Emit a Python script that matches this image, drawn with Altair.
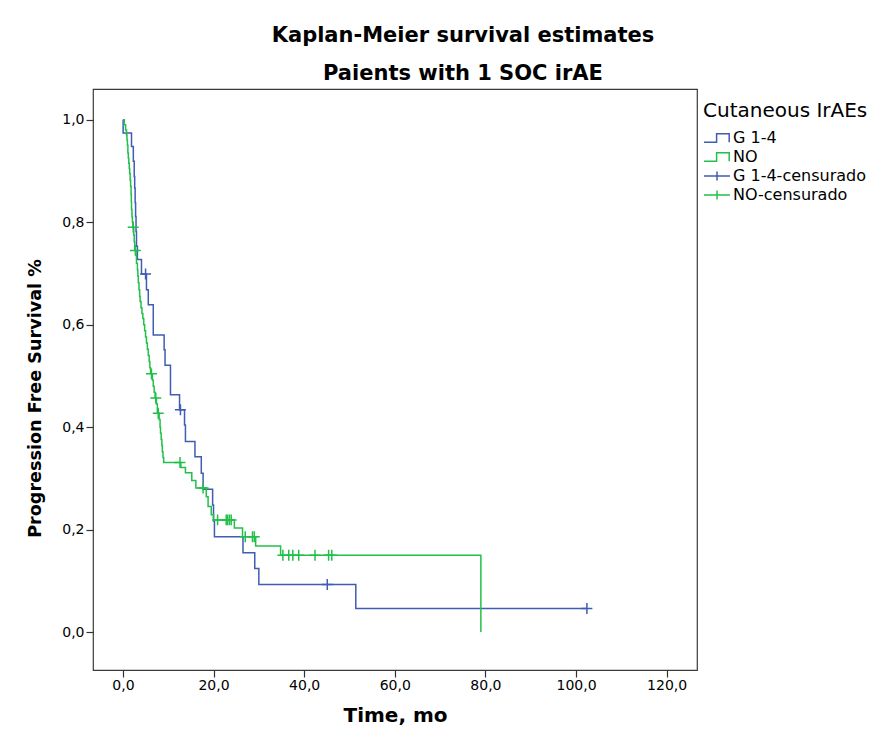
import altair as alt
import pandas as pd

# Kaplan-Meier step curves: time (months) of each drop and survival after it
g14_time = [0, 0.05, 1.9, 2.3, 2.5, 2.6, 2.7, 2.8, 2.9, 3.0, 3.2, 4.1, 5.2, 5.6, 6.7, 9.1,
            9.3, 10.5, 12.5, 13.6, 13.8, 15.9, 17.3, 17.7, 19.8, 20.0, 20.2, 26.5, 29.1,
            30.0, 51.4, 102.4]
g14_surv = [1.0, 0.974, 0.948, 0.919, 0.889, 0.867, 0.838, 0.811, 0.782, 0.753, 0.727,
            0.699, 0.668, 0.639, 0.580, 0.551, 0.521, 0.463, 0.434, 0.404, 0.372, 0.342,
            0.310, 0.279, 0.248, 0.217, 0.186, 0.155, 0.124, 0.093, 0.046, 0.046]

no_time = [0, 0.3, 0.6, 0.8, 0.9, 1.0, 1.1, 1.2, 1.3, 1.4, 1.5, 1.6, 1.7, 1.8, 1.85, 1.9,
           2.0, 2.1, 2.2, 2.4, 2.5, 2.6, 2.9, 3.0, 3.2, 3.3, 3.4, 3.55, 3.7, 3.8, 4.0, 4.2,
           4.4, 4.6, 4.8, 5.0, 5.2, 5.4, 5.6, 5.8, 5.95, 6.1, 6.5, 6.7, 6.9, 7.1, 7.4, 7.6,
           8.0, 8.2, 8.3, 8.45, 8.6, 8.7, 8.85, 9.0, 12.8, 13.8, 15.2, 16.1, 18.4, 18.8,
           19.5, 20.0, 24.6, 26.4, 29.3, 34.8, 79.0]
no_surv = [1.0, 0.99, 0.98, 0.97, 0.96, 0.95, 0.935, 0.925, 0.915, 0.905, 0.895, 0.882,
           0.87, 0.855, 0.84, 0.825, 0.81, 0.80, 0.79, 0.775, 0.762, 0.745, 0.735, 0.72,
           0.707, 0.695, 0.682, 0.668, 0.655, 0.645, 0.633, 0.622, 0.612, 0.60, 0.588,
           0.576, 0.564, 0.552, 0.54, 0.528, 0.516, 0.504, 0.492, 0.48, 0.468, 0.457,
           0.445, 0.427, 0.415, 0.40, 0.388, 0.376, 0.364, 0.352, 0.341, 0.331, 0.321,
           0.311, 0.296, 0.281, 0.264, 0.245, 0.229, 0.219, 0.203, 0.186, 0.168, 0.150, 0.0]

# Censored observations
g14_cens_time = [5.0, 12.7, 45.1, 102.4]
g14_cens_surv = [0.699, 0.434, 0.093, 0.046]
no_cens_time = [2.27, 2.75, 6.3, 7.25, 7.8, 12.6, 17.7, 20.9, 22.8, 23.1, 23.5, 23.9,
                27.0, 28.6, 29.0, 35.3, 36.6, 37.5, 38.8, 42.4, 45.4, 46.1]
no_cens_surv = [0.79, 0.745, 0.504, 0.457, 0.427, 0.331, 0.281, 0.219, 0.219, 0.219,
                0.219, 0.219, 0.186, 0.186, 0.186, 0.150, 0.150, 0.150, 0.150, 0.150,
                0.150, 0.150]

series_names = ["G 1-4", "NO", "G 1-4-censurado", "NO-censurado"]
series_colors = ["#3F5DB2", "#22C04A", "#3F5DB2", "#22C04A"]
x_ticks = [0, 20, 40, 60, 80, 100, 120]
y_ticks = [0, 0.2, 0.4, 0.6, 0.8, 1.0]

FONT = "DejaVu Sans"
# Legend icons drawn wider than the symbol's nominal box, starting at its left edge
STEP_ICON = "M-1,0.6H0.8V-0.6H2.6V0.6"
CROSS_ICON = "M-1,0H2.71M0.86,-0.65V0.65"
CROSS = "M-1,0H1M0,-1V1"

curves = pd.concat([
    pd.DataFrame({"time": g14_time, "surv": g14_surv, "series": series_names[0]}),
    pd.DataFrame({"time": no_time, "surv": no_surv, "series": series_names[1]}),
])
censored = pd.concat([
    pd.DataFrame({"time": g14_cens_time, "surv": g14_cens_surv, "series": series_names[2]}),
    pd.DataFrame({"time": no_cens_time, "surv": no_cens_surv, "series": series_names[3]}),
])
keys = pd.DataFrame({"series": series_names})

comma_fmt = "replace(format(datum.value, '.1f'), '.', ',')"
x_enc = alt.X(
    "time:Q",
    scale=alt.Scale(domain=[-6.6, 126.7], nice=False, zero=False),
    axis=alt.Axis(values=x_ticks, labelExpr=comma_fmt, grid=False, domain=False,
                  tickSize=7, tickColor="#333333", tickWidth=1.2,
                  labelFont=FONT, labelFontSize=14, labelColor="black", labelPadding=1,
                  titleFont=FONT, titleFontSize=20, titleFontWeight="bold",
                  titleColor="black", titlePadding=13),
    title="Time, mo",
)
y_enc = alt.Y(
    "surv:Q",
    scale=alt.Scale(domain=[-0.074, 1.06], nice=False, zero=False),
    axis=alt.Axis(values=y_ticks, labelExpr=comma_fmt, grid=False, domain=False,
                  tickSize=7, tickColor="#333333", tickWidth=1.2,
                  labelFont=FONT, labelFontSize=14, labelColor="black", labelPadding=2,
                  titleFont=FONT, titleFontSize=17.6, titleFontWeight="bold",
                  titleColor="black", titlePadding=17, titleY=309),
    title="Progression Free Survival %",
)
color_scale = alt.Scale(domain=series_names, range=series_colors)

legend_props = dict(
    title="Cutaneous IrAEs", orient="none", legendX=610, legendY=12, padding=0,
    titleFont=FONT, titleFontSize=20, titleFontWeight="normal", titleColor="black",
    titlePadding=9, labelFont=FONT, labelFontSize=16, labelColor="black",
    labelOffset=14, rowPadding=3, symbolSize=196, symbolStrokeWidth=1.5,
    symbolOpacity=1, symbolFillColor="transparent",
)
color_enc = alt.Color("series:N", scale=color_scale, legend=alt.Legend(**legend_props))

lines = alt.Chart(curves).mark_line(interpolate="step-after", strokeWidth=1.5).encode(
    x=x_enc, y=y_enc, color=color_enc, detail="series:N",
)

cens = alt.Chart(censored).mark_point(shape=CROSS, size=120, filled=False,
                                      strokeWidth=1.5, opacity=1).encode(
    x=x_enc, y=y_enc, color=color_enc,
)

key = alt.Chart(keys).mark_point(opacity=0, filled=False).encode(
    color=color_enc,
    shape=alt.Shape("series:N",
                    scale=alt.Scale(domain=series_names,
                                    range=[STEP_ICON, STEP_ICON, CROSS_ICON, CROSS_ICON]),
                    legend=alt.Legend(**legend_props)),
)

chart = alt.layer(lines, cens, key).properties(
    width=604,
    height=581,
    padding={"left": 93, "top": 89, "right": 180, "bottom": 65},
    autosize=alt.AutoSizeParams(type="none"),
    background="white",
    title=alt.TitleParams(
        text=["Kaplan-Meier survival estimates", "Paients with 1 SOC irAE"],
        font=FONT, fontSize=21, fontWeight="bold", color="black",
        anchor="middle", frame="group", dx=68, lineHeight=38, offset=5,
    ),
).configure_view(fill="#F0F0F0", stroke="#3A3A3A", strokeWidth=1.2)

chart.save("out.html", embed_options={"renderer": "svg", "actions": False})
